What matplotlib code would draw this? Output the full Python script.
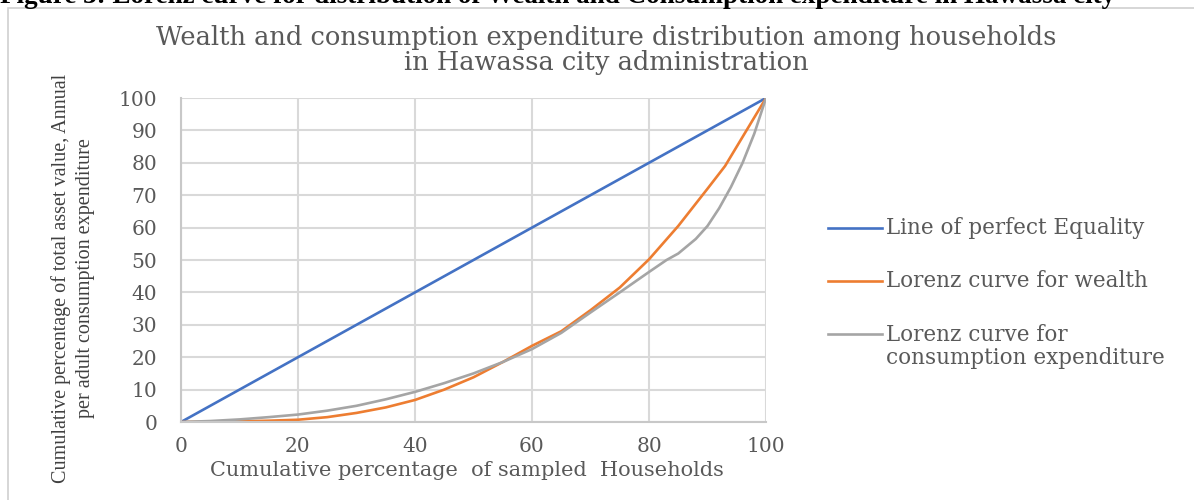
import matplotlib
matplotlib.use("Agg")
import matplotlib.pyplot as plt
from matplotlib.lines import Line2D
from matplotlib.patches import Rectangle

# ---- data ----
equality_x = [0, 25, 50, 76, 100]
equality_y = [0, 25, 50, 76, 100]

wealth_x = [0, 5, 10, 15, 20, 25, 30, 35, 40, 45, 50, 55, 60, 65, 70, 75, 80, 85, 90, 93, 95, 97, 100]
wealth_y = [0, 0.05, 0.2, 0.4, 0.7, 1.5, 2.8, 4.5, 6.8, 10, 13.8, 18.5, 23.5, 28, 34.5, 41.5, 50.2, 60.5, 72, 79, 85, 91, 100]

cons_x = [0, 5, 10, 15, 20, 25, 30, 35, 40, 45, 50, 55, 60, 65, 70, 75, 80, 83, 85, 88, 90, 92, 94, 96, 98, 100]
cons_y = [0, 0.3, 0.8, 1.5, 2.3, 3.5, 5, 7, 9.3, 12, 15, 18.5, 22.5, 27.5, 33.8, 40, 46.3, 50, 52, 56.5, 60.5, 66, 72.5, 80, 89, 100]

series_labels = ["Line of perfect Equality", "Lorenz curve for wealth",
                 "Lorenz curve for\nconsumption expenditure"]
series_colors = ["#4472C4", "#ED7D31", "#A5A5A5"]
x_ticks = [0, 20, 40, 60, 80, 100]
y_ticks = list(range(0, 101, 10))

title = "Wealth and consumption expenditure distribution among households\nin Hawassa city administration"
heading = "Figure 3: Lorenz curve for distribution of Wealth and Consumption expenditure in Hawassa city"
xlabel = "Cumulative percentage  of sampled  Households"
ylabel = "Cumulative percentage of total asset value, Annual\nper adult consumption expenditure"

W, H = 1194, 500
fig = plt.figure(figsize=(W / 100, H / 100), dpi=100)
fig.patch.set_facecolor("white")

def fx(px):
    return px / W

def fy(py):
    return 1 - py / H

# frame border
fig.add_artist(Rectangle((fx(8), fy(600)), fx(1400), fy(8) - fy(600), transform=fig.transFigure,
                         fill=False, edgecolor="#d0d0d0", linewidth=1.2))

# heading (cut at the top)
fig.text(fx(0), fy(3), heading, fontfamily="Liberation Serif", fontweight="bold",
         fontsize=19.5, color="black", ha="left", va="baseline")

ax = fig.add_axes([fx(181), fy(422), fx(766) - fx(181), fy(98) - fy(422)])
serif = "DejaVu Serif"
txt = "#595959"

ax.plot(equality_x, equality_y, color=series_colors[0], lw=1.9, solid_capstyle="round")
ax.plot(wealth_x, wealth_y, color=series_colors[1], lw=1.9, solid_capstyle="round")
ax.plot(cons_x, cons_y, color=series_colors[2], lw=1.9, solid_capstyle="round")

ax.set_xlim(0, 100)
ax.set_ylim(0, 100)
ax.set_xticks(x_ticks)
ax.set_yticks(y_ticks)
ax.set_xticklabels([str(v) for v in x_ticks], fontfamily=serif, fontsize=14.5, color=txt)
ax.set_yticklabels([str(v) for v in y_ticks], fontfamily=serif, fontsize=14.5, color=txt)
ax.tick_params(length=0)
ax.tick_params(axis="y", pad=17)
ax.tick_params(axis="x", pad=11)
ax.grid(True, color="#d9d9d9", linewidth=1.5)
ax.set_axisbelow(True)
for s in ["top", "right"]:
    ax.spines[s].set_visible(False)
for s in ["left", "bottom"]:
    ax.spines[s].set_color("#c8c8c8")
    ax.spines[s].set_linewidth(1.5)

fig.text(fx(606), fy(50), title, fontfamily=serif, fontsize=18.5, color=txt,
         ha="center", va="center", linespacing=1.0)
fig.text(fx(467), fy(470), xlabel, fontfamily=serif, fontsize=15, color=txt,
         ha="center", va="center")
fig.text(fx(73), fy(278), ylabel, fontfamily="Liberation Serif", fontsize=14.5, color="#404040",
         ha="center", va="center", rotation=90, linespacing=1.4, multialignment="center")

# legend
leg_y = [228, 281, 334]
for lab, col, py in zip(series_labels, series_colors, leg_y):
    fig.add_artist(Line2D([fx(828), fx(882)], [fy(py), fy(py)], transform=fig.transFigure,
                          color=col, lw=1.9))
    if "\n" in lab:
        fig.text(fx(886), fy(py - 10), lab, fontfamily=serif, fontsize=15.5, color=txt,
                 ha="left", va="top", linespacing=1.08)
    else:
        fig.text(fx(886), fy(py), lab, fontfamily=serif, fontsize=15.5, color=txt,
                 ha="left", va="center")

fig.savefig("out.png", dpi=100)
